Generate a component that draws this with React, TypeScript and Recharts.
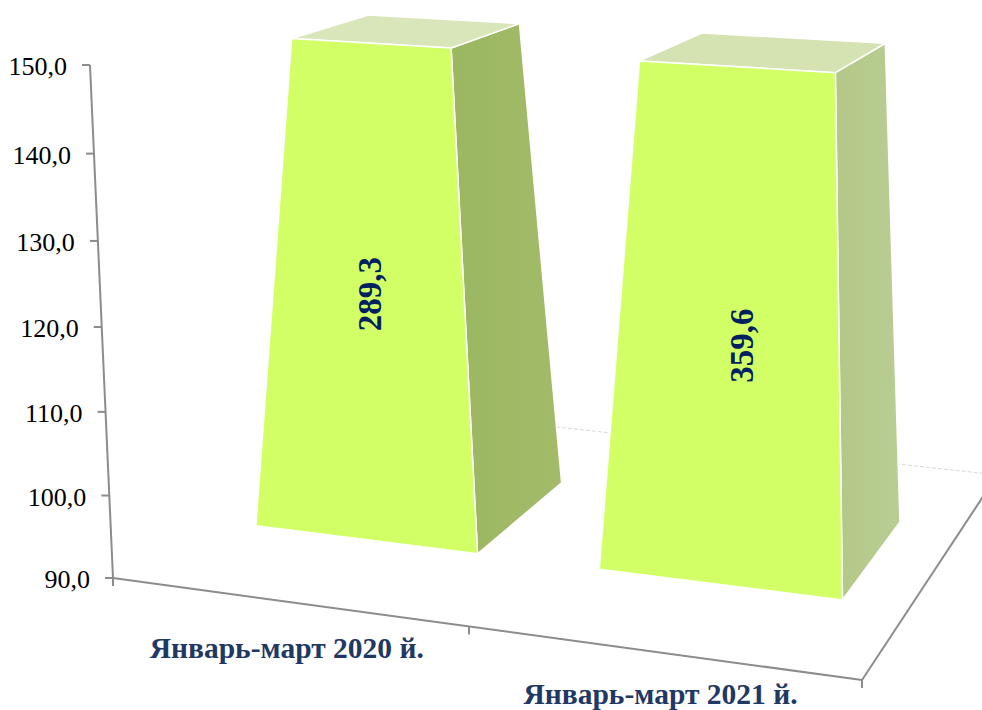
import { BarChart, Bar, XAxis, YAxis, LabelList, Customized } from 'recharts';

const categories = ['Январь-март 2020 й.', 'Январь-март 2021 й.'];
const values = [289.3, 359.6];
const yTicks = [90, 100, 110, 120, 130, 140, 150];

const chartData = categories.map((name, i) => ({ name, value: values[i] }));

const WIDTH = 982;
const HEIGHT = 710;
const AXIS_SIZE = 1;
const MARGIN = { top: 65, right: 100, bottom: 99, left: 99 };
const PLOT_LEFT = MARGIN.left + AXIS_SIZE;
const PLOT_W = WIDTH - PLOT_LEFT - MARGIN.right;
const PLOT_H = HEIGHT - MARGIN.top - MARGIN.bottom - AXIS_SIZE;
const PLOT_BOTTOM = MARGIN.top + PLOT_H;

const FONT = '"Liberation Serif", "Times New Roman", serif';
const AXIS_COLOR = '#8c8c8c';
const NAVY = '#1f3864';
const FRONT = '#d2ff66';
const TOPS = ['#d9e6ba', '#d5e3b3'];
const SIDES = [['#9bb761', '#a3bb69'], ['#b3c887', '#b9cd94']];

// the excel 3d view: x along categories, y into the floor, z up the value axis (all 0..1)
function project(x: number, y: number, z: number) {
    const w = 1 - 0.0941 * x + 0.228 * y - 0.042 * z;
    return {
        x: (113 + 667.9 * x + 350 * y - 26.8 * z) / w,
        y: (578 + 38 * x - 77.5 * y - 515.7 * z) / w,
    };
}

const DEPTH_FRONT = 0.3;
const DEPTH_BACK = 0.69;
const TAPER_FRONT = 0.195;
const TAPER_BACK = 0.115;
// small drift of each bar on the x axis, [at the floor, at the axis max]
const BAR_DRIFT = [[-0.005, -0.003], [-0.002, 0.005]];

const pts = (list: { x: number; y: number }[]) => list.map((p) => `${p.x},${p.y}`).join(' ');

// clipped pyramid: the apex sits at the value, the axis max cuts it
function PyramidBar(props: any) {
    const { x, width, height, index } = props;
    const cx = (x + width / 2 - PLOT_LEFT) / PLOT_W;
    const halfX = width / 2 / PLOT_W;
    const apex = height / PLOT_H;
    const top = Math.min(1, apex);
    const [drift0, drift1] = BAR_DRIFT[index];

    const corner = (sx: number, back: boolean, z: number) => {
        const f = 1 - z / apex;
        const depth = back ? DEPTH_BACK - (1 - f) * TAPER_BACK : DEPTH_FRONT + (1 - f) * TAPER_FRONT;
        return project(cx + drift0 + (drift1 - drift0) * z + sx * halfX * f, depth, z);
    };

    const front = [corner(-1, false, top), corner(1, false, top), corner(1, false, 0), corner(-1, false, 0)];
    const side = [corner(1, false, top), corner(1, true, top), corner(1, true, 0), corner(1, false, 0)];
    const cap = [corner(-1, false, top), corner(-1, true, top), corner(1, true, top), corner(1, false, top)];

    return (
        <g>
            <defs>
                <linearGradient id={`side-${index}`} x1="0" y1="0" x2="1" y2="0">
                    <stop offset="0%" stopColor={SIDES[index][0]} />
                    <stop offset="100%" stopColor={SIDES[index][1]} />
                </linearGradient>
            </defs>
            <polygon points={pts(side)} fill={`url(#side-${index})`} stroke="#fff" strokeWidth={1.5} strokeLinejoin="round" />
            <polygon points={pts(cap)} fill={TOPS[index]} stroke="#fff" strokeWidth={1.5} strokeLinejoin="round" />
            <polygon points={pts(front)} fill={FRONT} stroke="#fff" strokeWidth={1.5} strokeLinejoin="round" />
        </g>
    );
}

const LABEL_NUDGE = [[0, -1], [16, 16]];

function BarValue(props: any) {
    const { x, width, height, value, index } = props;
    const cx = (x + width / 2 - PLOT_LEFT) / PLOT_W;
    const apex = height / PLOT_H;
    const z = 0.5;
    const p = project(cx, DEPTH_FRONT + (z / apex) * TAPER_FRONT, z);
    const lx = p.x + LABEL_NUDGE[index][0];
    const ly = p.y + LABEL_NUDGE[index][1];
    return (
        <text
            x={lx}
            y={ly}
            transform={`rotate(-90 ${lx} ${ly})`}
            textAnchor="middle"
            dy={11}
            fontFamily={FONT}
            fontWeight="bold"
            fontSize={33}
            fill="#002060"
        >
            {String(value).replace('.', ',')}
        </text>
    );
}

function ValueTick(props: any) {
    const { y, payload } = props;
    const p = project(0, 0, (PLOT_BOTTOM - y) / PLOT_H);
    return (
        <g>
            <line x1={p.x - 8} y1={p.y} x2={p.x} y2={p.y} stroke={AXIS_COLOR} strokeWidth={2} />
            <text x={p.x - 23} y={p.y + 10} textAnchor="end" fontFamily={FONT} fontSize={26} fill="#000">
                {payload.value.toFixed(1).replace('.', ',')}
            </text>
        </g>
    );
}

// second label sits a bit higher so the descender stays on the page
const CATEGORY_DROP = [56, 51];

function CategoryTick(props: any) {
    const { x, payload, index } = props;
    const p = project((x - PLOT_LEFT) / PLOT_W, 0, 0);
    return (
        <text x={p.x} y={p.y + CATEGORY_DROP[index]} textAnchor="middle" fontFamily={FONT} fontWeight="bold" fontSize={29.5} fill={NAVY}>
            {payload.value}
        </text>
    );
}

// floor edges and the tilted axis lines
function Frame() {
    const origin = project(0, 0, 0);
    const right = project(1, 0, 0);
    const backRight = project(1, 1, 0);
    const backLeft = project(0, 1, 0);
    const axisTop = project(0, 0, 1);
    const edges = [0, 0.5, 1].map((t) => project(t, 0, 0));
    return (
        <g>
            <line x1={backLeft.x} y1={backLeft.y} x2={backRight.x} y2={backRight.y} stroke="#d9d9d9" strokeWidth={1} strokeDasharray="4 2" />
            <line x1={axisTop.x} y1={axisTop.y} x2={origin.x} y2={origin.y} stroke={AXIS_COLOR} strokeWidth={2} />
            <line x1={origin.x} y1={origin.y} x2={right.x} y2={right.y} stroke={AXIS_COLOR} strokeWidth={2} />
            <line x1={right.x} y1={right.y} x2={backRight.x} y2={backRight.y} stroke={AXIS_COLOR} strokeWidth={2} />
            {edges.map((p, i) => (
                <line key={i} x1={p.x} y1={p.y} x2={p.x} y2={p.y + 8} stroke={AXIS_COLOR} strokeWidth={2} />
            ))}
        </g>
    );
}

export default function App() {
    return (
        <div style={{ position: 'absolute', left: 0, top: 0, width: WIDTH, height: HEIGHT, background: '#fff' }}>
            {/* bars go past the axis max on purpose, the shape cuts them itself */}
            <style>{'.recharts-bar, .recharts-bar * { clip-path: none !important; }'}</style>
            <BarChart width={WIDTH} height={HEIGHT} data={chartData} margin={MARGIN} barCategoryGap="17%">
                <Customized component={Frame} />
                <XAxis dataKey="name" height={AXIS_SIZE} axisLine={false} tickLine={false} tick={CategoryTick} interval={0} />
                <YAxis
                    width={AXIS_SIZE}
                    domain={[90, 150]}
                    ticks={yTicks}
                    allowDataOverflow
                    axisLine={false}
                    tickLine={false}
                    tick={ValueTick}
                    interval={0}
                />
                <Bar dataKey="value" shape={PyramidBar} isAnimationActive={false}>
                    <LabelList dataKey="value" content={BarValue} />
                </Bar>
            </BarChart>
        </div>
    );
}
